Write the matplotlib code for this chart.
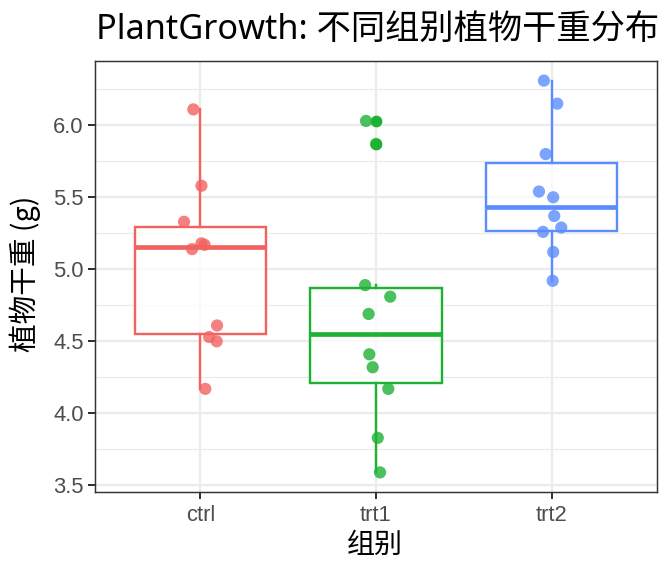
import matplotlib
matplotlib.use("Agg")
import matplotlib.pyplot as plt
import numpy as np

groups = ["ctrl", "trt1", "trt2"]
colors = ["#F2625F", "#1DB233", "#5B8DFF"]
ctrl = [4.17, 5.58, 5.18, 6.11, 4.50, 4.61, 5.17, 4.53, 5.33, 5.14]
trt1 = [4.81, 4.17, 4.41, 3.59, 5.87, 3.83, 6.03, 4.89, 4.32, 4.69]
trt2 = [6.31, 5.12, 5.54, 5.50, 5.37, 5.29, 4.92, 6.15, 5.80, 5.26]
# horizontal jitter offsets
ctrl_jit = [0.028, 0.006, 0.006, -0.040, 0.093, 0.095, 0.024, 0.050, -0.093, -0.047]
trt1_jit = [0.081, 0.070, -0.038, 0.023, 0.000, 0.010, -0.057, -0.062, -0.019, -0.042]
trt2_jit = [-0.044, 0.009, -0.072, 0.009, 0.015, 0.055, 0.006, 0.032, -0.034, -0.049]
yticks = [3.5, 4.0, 4.5, 5.0, 5.5, 6.0]
yminor = [3.75, 4.25, 4.75, 5.25, 5.75, 6.25]

data = [ctrl, trt1, trt2]
jits = [ctrl_jit, trt1_jit, trt2_jit]

cjk = ["Noto Sans CJK SC", "DejaVu Sans"]
title_fam = ["Noto Sans", "Noto Sans CJK SC"]
W, H = 672, 576
fig = plt.figure(figsize=(7, 6), dpi=96)
ax = fig.add_axes([95/W, 1-492/H, (657-95)/W, (492-61)/H])

ax.set_xlim(0.4, 3.6)
allv = np.concatenate(data)
r = allv.max() - allv.min()
ax.set_ylim(allv.min() - 0.05*r, allv.max() + 0.05*r)

ax.set_yticks(yticks)
ax.set_yticklabels([f"{v:.1f}" for v in yticks])
ax.set_yticks(yminor, minor=True)
ax.set_xticks([1, 2, 3])
ax.set_xticklabels(groups)
ax.grid(True, which="major", color="#EBEBEB", linewidth=1.7, zorder=0)
ax.grid(True, which="minor", axis="y", color="#EBEBEB", linewidth=0.9, zorder=0)
ax.set_axisbelow(True)
ax.tick_params(axis="both", which="major", length=5, width=1.5, color="#333333",
               labelcolor="#4D4D4D", labelsize=16.5, pad=3.5)
ax.tick_params(axis="x", which="major", pad=4.5)
ax.tick_params(axis="y", which="minor", length=0)
for lab in ax.get_xticklabels() + ax.get_yticklabels():
    lab.set_family(["Liberation Sans", "DejaVu Sans"])
for s in ax.spines.values():
    s.set_color("#333333")
    s.set_linewidth(1.1)

for i, (vals, col) in enumerate(zip(data, colors)):
    pos = i + 1
    bp = ax.boxplot([vals], positions=[pos], widths=0.75, whis=1.5, showcaps=False,
                    patch_artist=True, manage_ticks=False,
                    boxprops=dict(facecolor=(1, 1, 1, 0.7), edgecolor=col, linewidth=1.8),
                    whiskerprops=dict(color=col, linewidth=1.8),
                    medianprops=dict(color=col, linewidth=3.5, solid_capstyle="butt"),
                    flierprops=dict(marker="o", markerfacecolor=col, markeredgecolor=col,
                                    markersize=8.8, markeredgewidth=0, linestyle="none"))
    for art in bp["boxes"] + bp["whiskers"] + bp["medians"] + bp["fliers"]:
        art.set_zorder(2)
    xs = pos + np.array(jits[i])
    ax.scatter(xs, vals, s=84, color=col, alpha=0.8, edgecolors="none", zorder=3)

fig.text(96/W, 1-39/H, "PlantGrowth: 不同组别植物干重分布", family=title_fam, fontsize=25.7,
         ha="left", va="baseline", color="black")
fig.text(375/W, 1-545/H, "组别", family=cjk, fontsize=21, ha="center", va="center",
         color="black")
fig.text(25/W, 1-274/H, "植物干重 (g)", family=cjk, fontsize=21.5, ha="center", va="center",
         rotation=90, color="black")

fig.savefig("out.png", dpi=96)
